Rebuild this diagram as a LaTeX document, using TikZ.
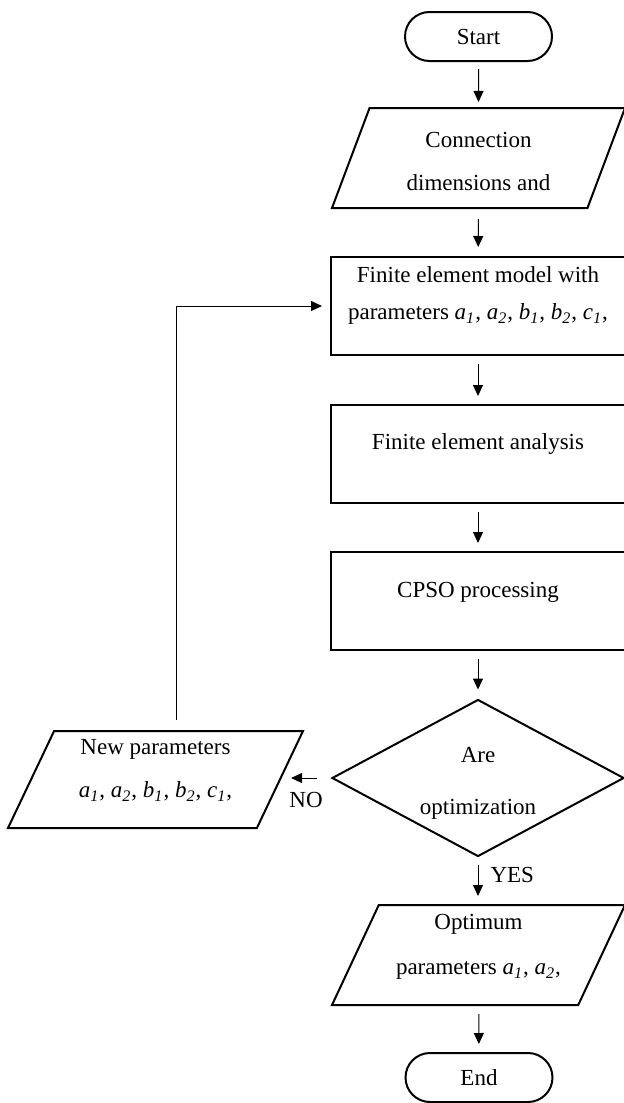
\documentclass[tikz,border=0pt]{standalone}
\usepackage{fontspec}
\setmainfont{Liberation Serif}
\usetikzlibrary{shapes.geometric,shapes.misc,arrows.meta}

\newcommand{\sub}[2]{\textit{#1\textsubscript{#2}}}

\begin{document}
\begin{tikzpicture}[x=0.5pt,y=-0.5pt,
    every node/.style={font=\fontsize{11.5}{14}\selectfont},
    term/.style={draw,line width=1pt,rounded rectangle,minimum width=73.5pt,minimum height=24.5pt,inner sep=0pt},
    io/.style={draw,line width=1pt,trapezium,trapezium left angle=60,trapezium right angle=120,
      trapezium stretches body,minimum width=146.5pt,minimum height=50pt,inner sep=0pt,align=center},
    proc/.style={draw,line width=1pt,rectangle,minimum width=147pt,minimum height=49pt,inner sep=0pt,
      align=center,text depth=12.5pt},
    decide/.style={draw,line width=1pt,diamond,aspect=1.86,minimum width=146pt,minimum height=78.5pt,
      inner sep=0pt,align=center},
    flow/.style={line width=0.5pt,-{Triangle[length=5.5pt,width=5pt]},shorten <=4pt,shorten >=4pt}]
  \useasboundingbox (0,0) rectangle (623,1103);

  % main column
  \node[term] (start) at (478.5,36.5) {Start};
  \node[io,font=\fontsize{11.5}{21.5}\selectfont,text height=32.4pt] (conn) at (478.5,158)
    {Connection\\dimensions and};
  \node[proc,font=\fontsize{11.5}{18.5}\selectfont] (model) at (478,306)
    {Finite element model with\\parameters \sub{a}{1}, \sub{a}{2}, \sub{b}{1}, \sub{b}{2}, \sub{c}{1},};
  \node[proc] (analysis) at (478,454) {Finite element analysis};
  \node[proc,text depth=11pt] (cpso) at (478,601) {CPSO processing};
  \node[decide,font=\fontsize{11.5}{26}\selectfont,text height=39pt] (check) at (478,778) {Are\\optimization};
  \node[io,font=\fontsize{11.5}{22.5}\selectfont,text depth=10.4pt] (opt) at (478.5,955)
    {Optimum\\parameters \sub{a}{1}, \sub{a}{2},};
  \node[term] (stop) at (479,1077.5) {End};

  % side branch
  \node[io,minimum width=147.5pt,minimum height=48.5pt,font=\fontsize{11.5}{21.5}\selectfont,
    text depth=10.9pt] (newpar) at (155.5,779.5)
    {New parameters\\\sub{a}{1}, \sub{a}{2}, \sub{b}{1}, \sub{b}{2}, \sub{c}{1},};
  \coordinate (bend) at (176,306);

  \draw[flow,shorten <=3.5pt,shorten >=2.5pt] (start) -- (conn);
  \draw[flow,shorten <=5pt,shorten >=4.5pt] (conn) -- (model);
  \draw[flow] (model) -- (analysis);
  \draw[flow] (analysis) -- (cpso);
  \draw[flow,shorten >=4.5pt] (cpso) -- (check);
  \draw[flow,shorten <=3.5pt] (check.south) -- node[right=6pt,inner sep=0pt,pos=0.38] (yeslbl) {YES}
    (check.south |- opt.north);
  \draw[flow] (opt) -- (stop);
  \draw[flow,shorten <=7pt,shorten >=5pt] (check.west) -- node[below=7pt,inner sep=0pt] (nolbl) {NO}
    (check.west -| newpar.east);
  \draw[flow,shorten <=5pt] (bend |- newpar.north) -- (bend) -- (model.west);
\end{tikzpicture}
\end{document}
